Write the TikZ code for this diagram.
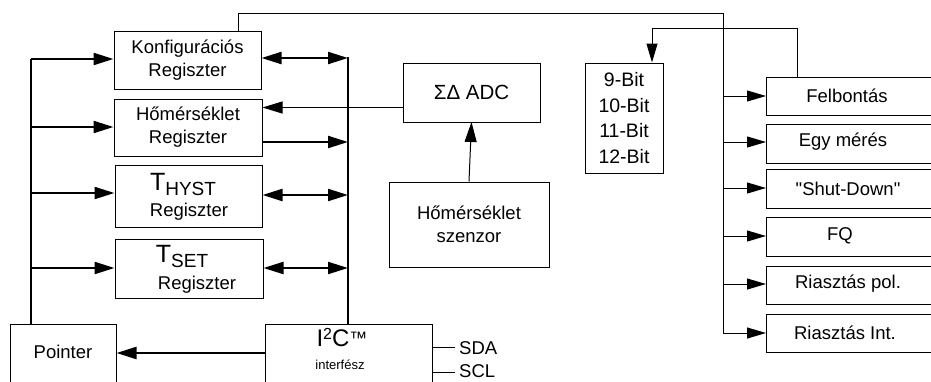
\documentclass[tikz,border=0pt]{standalone}
\usepackage{fontspec}
\setmainfont{Liberation Sans}
\newfontfamily\straightq{Liberation Sans}[Ligatures=TeXOff]
\usetikzlibrary{arrows.meta}
\begin{document}
\begin{tikzpicture}[x=1pt,y=-1pt,
  box/.style={draw,line width=1pt,inner sep=0pt,font=\fontsize{18.5}{23}\selectfont,align=center},
  txt/.style={inner sep=0pt,font=\fontsize{18.5}{23}\selectfont,align=center},
  thick line/.style={line width=2.2pt},
  thin line/.style={line width=1pt},
  bigtip/.style={-{Triangle[length=20pt,width=12pt]}},
  bibig/.style={{Triangle[length=20pt,width=12pt]}-{Triangle[length=20pt,width=12pt]}},
  smalltip/.style={-{Triangle[length=19pt,width=11pt]}}]
\useasboundingbox (0,0) rectangle (931,381);
\clip (0,0) rectangle (931,381);
% register boxes
\node[box,minimum width=147pt,minimum height=58pt] (konf) at (187.5,60) {Konfigurációs\\ Regiszter};
\node[box,minimum width=148pt,minimum height=57pt] (hom) at (188,127.5) {Hőmérséklet\\ Regiszter};
\node[box,minimum width=147pt,minimum height=62pt] (hyst) at (188.5,196) {};
\node[txt] (hystt) at (183,184) {\fontsize{25}{25}\selectfont T\raisebox{-5pt}{\fontsize{19}{19}\selectfont HYST}};
\node[txt] (hystr) at (189,212) {Regiszter};
\node[box,minimum width=148pt,minimum height=59pt] (tset) at (189,268.5) {};
\node[txt] (tsett) at (182,256) {\fontsize{25}{25}\selectfont T\raisebox{-5pt}{\fontsize{19}{19}\selectfont SET}};
\node[txt] (tsetr) at (197,285) {Regiszter};
% pointer and i2c
\node[box,minimum width=106pt,minimum height=80pt] (ptr) at (63,364) {};
\node[txt] (ptrt) at (63,352) {Pointer};
\node[box,minimum width=167pt,minimum height=80pt] (i2c) at (348.5,364) {};
\node[txt] (i2ct) at (342,338) {\fontsize{24}{24}\selectfont I\raisebox{7pt}{\fontsize{16}{16}\selectfont 2}C\raisebox{2pt}{\fontsize{18}{18}\selectfont ™}};
\node[txt] (i2ci) at (340,365) {\fontsize{13}{13}\selectfont interfész};
\coordinate (sdaA) at (432,347);
\coordinate (sdaB) at (455,347);
\coordinate (sclA) at (432,372);
\coordinate (sclB) at (455,372);
\node[txt,anchor=west] (sda) at (459,348) {SDA};
\node[txt,anchor=west] (scl) at (459,371.5) {SCL};
\draw[thin line] (sdaA) -- (sdaB);
\draw[thin line] (sclA) -- (sclB);
% adc and sensor
\node[box,minimum width=137pt,minimum height=59pt,font=\fontsize{20.5}{24}\selectfont] (adc) at (471.5,92.5) {ΣΔ ADC};
\node[box,minimum width=160pt,minimum height=85pt] (sens) at (469,224.5) {Hőmérséklet\\ szenzor};
% bits
\node[box,minimum width=78pt,minimum height=110pt,font=\fontsize{19.5}{25.5}\selectfont] (bits) at (624,118) {9-Bit\\10-Bit\\11-Bit\\12-Bit};
% right boxes
\node[box,minimum width=180pt,minimum height=38pt,anchor=west] (felb) at (766,96) {};
\node[box,minimum width=180pt,minimum height=39pt,anchor=west] (egy) at (766,143.5) {};
\node[box,minimum width=180pt,minimum height=39pt,anchor=west] (shut) at (766,188.5) {};
\node[box,minimum width=180pt,minimum height=39pt,anchor=west] (fq) at (766,236.5) {};
\node[box,minimum width=180pt,minimum height=38pt,anchor=west] (pol) at (766,285) {};
\node[box,minimum width=180pt,minimum height=38pt,anchor=west] (int) at (766,333) {};
\node[txt] (felbt) at (847,96) {Felbontás};
\node[txt] (egyt) at (843,142) {Egy mérés};
\node[txt] (shutt) at (848,189) {\straightq "Shut-Down"};
\node[txt] (fqt) at (840,236) {FQ};
\node[txt] (polt) at (848,284) {Riasztás pol.};
\node[txt] (intt) at (845,333) {Riasztás Int.};
% buses
\coordinate (lbtop) at (31,59);
\coordinate (lbbot) at (31,324);
\coordinate (rbtop) at (348,57);
\coordinate (rbbot) at (348,324);
\draw[thick line] (lbtop) -- (lbbot);
\draw[thick line] (rbtop) -- (rbbot);
\draw[thick line,bigtip] (lbtop) -- (konf.west|-lbtop);
\draw[thick line,bigtip] (31,127) -- (hom.west|-0,127);
\draw[thick line,bigtip] (31,193) -- (hyst.west|-0,193);
\draw[thick line,bigtip] (31,268) -- (tset.west|-0,268);
\draw[thick line,bibig] (konf.east|-0,58) -- (348,58);
\draw[thick line,bigtip] (hom.east|-0,142) -- (348,142);
\draw[thick line,bibig] (hyst.east|-0,195) -- (348,195);
\draw[thick line,bibig] (tset.east|-0,268) -- (348,268);
\draw[thick line,bigtip] (i2c.west|-0,353) -- (ptr.east|-0,353);
% adc connections
\draw[thin line,bigtip] (adc.west|-0,107.5) -- (hom.east|-0,107.5);
\draw[thin line,bigtip] (sens.north) -- (adc.south|-0,122);
% top distribution line
\coordinate (t1) at (238,13);
\coordinate (t2) at (723,13);
\coordinate (t3) at (723,333);
\draw[thin line] (konf.north-|238,0) -- (t1) -- (t2) -- (t3);
\foreach \n/\y in {felb/96,egy/142,shut/188,fq/236,pol/284,int/333}
  \draw[thin line,smalltip] (723,\y) -- (\n.west|-0,\y);
% feedback from Felbontás to bits
\coordinate (f1) at (797,28);
\coordinate (f2) at (652,28);
\draw[thin line,smalltip] (felb.north-|797,0) -- (f1) -- (f2) -- (bits.north-|652,0);
\end{tikzpicture}
\end{document}
